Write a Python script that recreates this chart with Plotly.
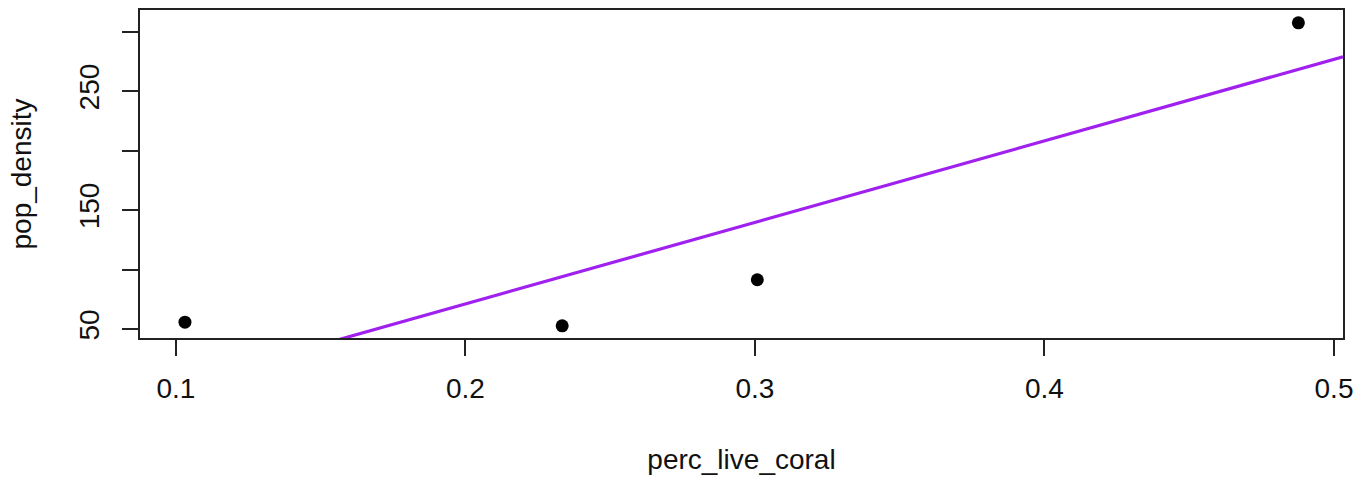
import numpy as np
import plotly.graph_objects as go

perc_live_coral = [0.1031, 0.2334, 0.3008, 0.4877]
pop_density = [55.8, 52.7, 91.5, 307.5]

x_tickvals = [0.1, 0.2, 0.3, 0.4, 0.5]
x_ticktext = ["0.1", "0.2", "0.3", "0.4", "0.5"]
y_tickvals = [50, 100, 150, 200, 250, 300]
y_ticktext = ["50", "", "150", "", "250", ""]

x_range = [0.08757, 0.50311]
y_range = [42.5, 318.3]

slope, intercept = np.polyfit(perc_live_coral, pop_density, 1)
line_x = np.array(x_range)
line_y = intercept + slope * line_x

FONT = "Liberation Sans, Arial, sans-serif"

fig = go.Figure()
fig.add_trace(go.Scatter(
    x=line_x, y=line_y, mode="lines",
    line=dict(color="#A020F0", width=3.2), showlegend=False, hoverinfo="skip"))
fig.add_trace(go.Scatter(
    x=perc_live_coral, y=pop_density, mode="markers",
    marker=dict(color="black", size=13), showlegend=False, cliponaxis=False))

axis_common = dict(
    showgrid=False, zeroline=False, showline=True, mirror=True,
    linecolor="#222222", linewidth=1.5,
    ticks="outside", ticklen=16, tickwidth=1.5, tickcolor="#222222",
    tickfont=dict(family=FONT, size=28, color="#111111"),
)

fig.update_layout(
    width=1371, height=478,
    margin=dict(l=140, r=28, t=8, b=138),
    paper_bgcolor="white", plot_bgcolor="white",
    xaxis=dict(
        range=x_range, tickmode="array", tickvals=x_tickvals, ticktext=x_ticktext,
        ticklabelstandoff=9,
        title=dict(text="perc_live_coral", font=dict(family=FONT, size=28, color="#111111"), standoff=46),
        **axis_common),
    yaxis=dict(
        range=y_range, tickmode="array", tickvals=y_tickvals, ticktext=y_ticktext,
        tickangle=-90, ticklabelstandoff=12,
        title=dict(text="pop_density", font=dict(family=FONT, size=28, color="#111111"), standoff=34),
        **axis_common),
)

fig.write_html("out.html")
